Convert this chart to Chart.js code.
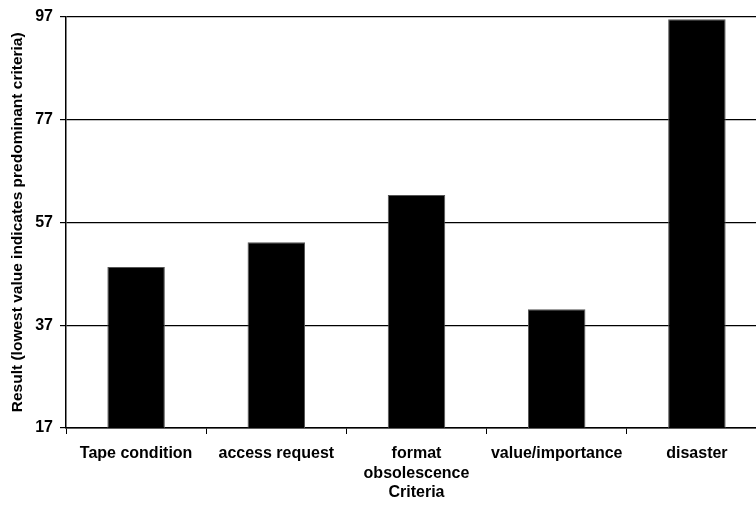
<!DOCTYPE html>
<html>
<head>
<meta charset="utf-8">
<script src="https://cdn.jsdelivr.net/npm/chart.js@4/dist/chart.umd.min.js"></script>
<style>
  html, body { margin: 0; padding: 0; background: #fff; overflow: hidden; }
  #wrap { width: 770px; height: 507px; }
</style>
</head>
<body>
<div id="wrap"><canvas id="chart" width="770" height="507"></canvas></div>
<script>
// 各评价标准的结果（值越低表示越优先）
const categories = ['Tape condition', 'access request', ['format', 'obsolescence'], 'value/importance', 'disaster'];
const results = [48.3, 53.1, 62.3, 40.1, 96.5];
const yTicks = [17, 37, 57, 77, 97];

const FONT = '"Liberation Sans", Arial, Helvetica, sans-serif';

new Chart(document.getElementById('chart'), {
  type: 'bar',
  data: {
    labels: categories,
    datasets: [{
      data: results,
      backgroundColor: '#000',
      borderColor: '#555',
      borderWidth: 1,
      categoryPercentage: 1,
      barPercentage: 0.41
    }]
  },
  options: {
    responsive: false,
    animation: false,
    layout: { padding: { top: 16, right: 3, left: 0, bottom: 0 } },
    plugins: { legend: { display: false }, tooltip: { enabled: false } },
    scales: {
      x: {
        grid: { drawOnChartArea: false, drawTicks: true, tickLength: 6, color: '#000' },
        border: { color: '#000', width: 1.5 },
        ticks: { color: '#000', font: { family: FONT, size: 16, weight: 'bold', lineHeight: 1.25 }, padding: 10, maxRotation: 0 },
        title: { display: true, text: 'Criteria', color: '#000', font: { family: FONT, size: 16, weight: 'bold' }, padding: { top: 2, bottom: 5 } },
        afterFit: s => { s.height = 79; }
      },
      y: {
        min: 17,
        max: 97,
        afterBuildTicks: s => { s.ticks = yTicks.map(v => ({ value: v })); },
        grid: { color: '#000', lineWidth: 1.2, tickLength: 6 },
        border: { color: '#000', width: 1.5 },
        ticks: { color: '#000', font: { family: FONT, size: 16, weight: 'bold' }, padding: 7 },
        title: { display: true, text: 'Result (lowest value indicates predominant criteria)', color: '#000', font: { family: FONT, size: 15.5, weight: 'bold' }, padding: { top: 8, bottom: 0 } },
        afterFit: s => { s.width = 66; }
      }
    }
  }
});
</script>
</body>
</html>
